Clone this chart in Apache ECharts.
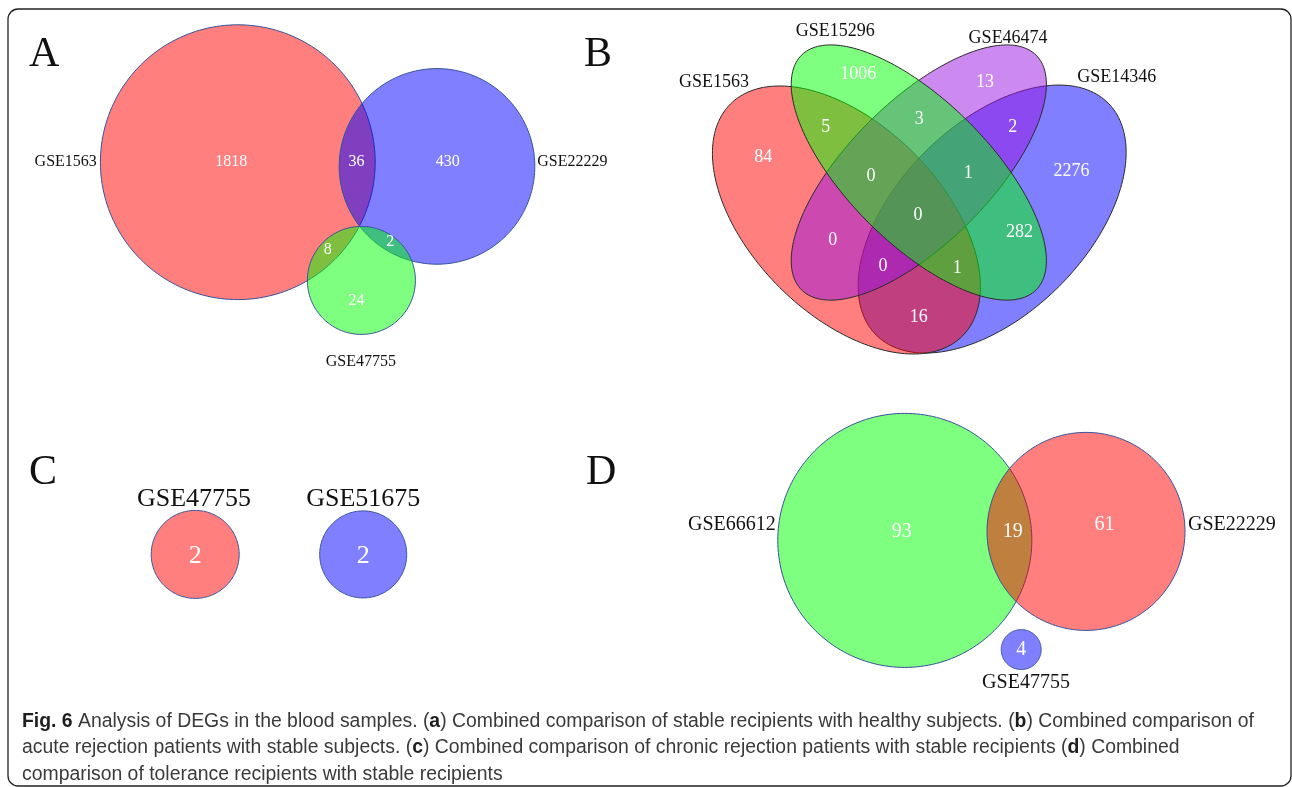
<!DOCTYPE html>
<html>
<head>
<meta charset="utf-8">
<script src="https://cdn.jsdelivr.net/npm/echarts@6/dist/echarts.min.js"></script>
<style>
html, body { margin: 0; padding: 0; background: #fff; }
#main { width: 1292px; height: 787px; }
</style>
</head>
<body>
<div id="main"></div>
<script>
// ---- A: stable recipients vs healthy subjects ----
// circles: [cx, cy, r] in panel units
const circlesA = [[3.63, 3.63, 2.29], [6.95, 3.56, 1.63], [5.69, 1.66, 0.90]]
const namesA = [[1.28, 3.63, 'GSE1563', 'right'], [8.62, 3.63, 'GSE22229', 'left'], [5.68, 0.30, 'GSE47755', 'center']]
const countsA = [
  [3.52, 3.63, 1818], [5.61, 3.63, 36], [7.13, 3.63, 430],
  [5.13, 2.17, 8], [6.17, 2.30, 2], [5.61, 1.32, 24]
]

// ---- B: 4-set venn, ellipses [cx, cy, a, b, rotation] (drawing order) ----
const ellipsesB = [
  [0.662, 0.485, 0.349, 0.202, 45],   // GSE14346
  [0.352, 0.483, 0.349, 0.202, 135],  // GSE1563
  [0.506, 0.584, 0.353, 0.151, 45],   // GSE46474
  [0.506, 0.584, 0.353, 0.151, 135]   // GSE15296
]
const namesB = [
  [0.070, 0.777, 'GSE1563', 'center'], [0.328, 0.884, 'GSE15296', 'center'],
  [0.696, 0.870, 'GSE46474', 'center'], [0.927, 0.787, 'GSE14346', 'center']
]
const countsB = [
  [0.377, 0.792, 1006], [0.647, 0.775, 13], [0.308, 0.681, 5], [0.507, 0.697, 3],
  [0.706, 0.681, 2], [0.175, 0.616, 84], [0.404, 0.577, 0], [0.611, 0.582, 1],
  [0.831, 0.586, 2276], [0.504, 0.494, 0], [0.323, 0.439, 0], [0.720, 0.456, 282],
  [0.430, 0.384, 0], [0.588, 0.380, 1], [0.506, 0.275, 16]
]

// ---- C: no overlap ----
const circlesC = [[2.92, 1.76, 0.733], [5.72, 1.76, 0.725]]
const namesC = [[2.90, 2.68, 'GSE47755', 'center'], [5.72, 2.68, 'GSE51675', 'center']]
const countsC = [[2.92, 1.73, 2], [5.72, 1.73, 2]]

// ---- D: tolerance recipients ----
const circlesD = [[4.08, 2.66, 2.117], [7.10, 2.81, 1.65], [6.02, 0.84, 0.333]]
const namesD = [[1.93, 2.92, 'GSE66612', 'right'], [8.80, 2.92, 'GSE22229', 'left'], [6.10, 0.28, 'GSE47755', 'center']]
const countsD = [[4.03, 2.80, 93], [5.88, 2.80, 19], [7.41, 2.92, 61], [6.02, 0.83, 4]]

const RED = 'rgba(255,0,0,0.5)'
const BLUE = 'rgba(0,0,255,0.5)'
const GREEN = 'rgba(0,255,0,0.5)'
const PURPLE = 'rgba(153,20,225,0.5)'
const SERIF = '"Liberation Serif", "Times New Roman", serif'

function ellipseItem(fills, stroke) {
  return function (params, api) {
    const cx = api.value(0)
    const cy = api.value(1)
    const a = api.value(2)
    const b = api.value(3)
    const rot = api.value(4) * Math.PI / 180
    const points = []
    for (let i = 0; i < 200; i++) {
      const t = i / 200 * Math.PI * 2
      const dx = a * Math.cos(t)
      const dy = b * Math.sin(t)
      points.push(api.coord([cx + dx * Math.cos(rot) - dy * Math.sin(rot), cy + dx * Math.sin(rot) + dy * Math.cos(rot)]))
    }
    return {
      type: 'polygon',
      shape: { points: points },
      style: { fill: fills[params.dataIndex], stroke: stroke, lineWidth: 1 }
    }
  }
}

function textItem(src, color, size) {
  return function (params, api) {
    const row = src[params.dataIndex]
    const p = api.coord([row[0], row[1]])
    return {
      type: 'text',
      x: p[0],
      y: p[1],
      style: {
        text: String(row[2]),
        fill: color,
        font: size + 'px ' + SERIF,
        align: row[3] || 'center',
        verticalAlign: 'middle'
      }
    }
  }
}

const toCircle = (c) => [c[0], c[1], c[2], c[2], 0]

function shapes(idx, data, fills, stroke) {
  return {
    type: 'custom', xAxisIndex: idx, yAxisIndex: idx, clip: false, silent: true, z: 2,
    renderItem: ellipseItem(fills, stroke),
    data: data
  }
}
function texts(idx, src, color, size) {
  return {
    type: 'custom', xAxisIndex: idx, yAxisIndex: idx, clip: false, silent: true, z: 5,
    renderItem: textItem(src, color, size),
    data: src.map((r) => [r[0], r[1]])
  }
}

const chart = echarts.init(document.getElementById('main'))
const axisOff = { type: 'value', show: false }
const caption =
  '{b|Fig. 6} Analysis of DEGs in the blood samples. ({b|a}) Combined comparison of stable recipients with healthy subjects. ({b|b}) Combined comparison of\n' +
  'acute rejection patients with stable subjects. ({b|c}) Combined comparison of chronic rejection patients with stable recipients ({b|d}) Combined\n' +
  'comparison of tolerance recipients with stable recipients'
const CAP_FONT = '"Liberation Sans", Arial, sans-serif'

chart.setOption({
  animation: false,
  title: {
    left: 17,
    top: 703,
    text: caption,
    textStyle: {
      fontFamily: CAP_FONT, fontSize: 19.4, fontWeight: 'normal', color: '#3a3a3a', lineHeight: 26.5,
      rich: { b: { fontFamily: CAP_FONT, fontSize: 19.4, fontWeight: 'bold', color: '#1e1e1e', lineHeight: 26.5 } }
    }
  },
  grid: [
    { left: 20, top: 20, width: 600, height: 360 },
    { left: 681, top: 24, width: 470, height: 376 },
    { left: 20, top: 420, width: 600, height: 240 },
    { left: 660, top: 400, width: 600, height: 300 }
  ],
  xAxis: [
    Object.assign({ gridIndex: 0, min: 0, max: 10 }, axisOff),
    Object.assign({ gridIndex: 1, min: 0, max: 1 }, axisOff),
    Object.assign({ gridIndex: 2, min: 0, max: 10 }, axisOff),
    Object.assign({ gridIndex: 3, min: 0, max: 10 }, axisOff)
  ],
  yAxis: [
    Object.assign({ gridIndex: 0, min: 0, max: 6 }, axisOff),
    Object.assign({ gridIndex: 1, min: 0.1, max: 0.9 }, axisOff),
    Object.assign({ gridIndex: 2, min: 0, max: 4 }, axisOff),
    Object.assign({ gridIndex: 3, min: 0, max: 5 }, axisOff)
  ],
  graphic: [
    { type: 'rect', shape: { x: 8, y: 9, width: 1283, height: 777, r: 10 }, style: { fill: 'none', stroke: '#222', lineWidth: 1.3 }, z: 0 },
    { type: 'text', x: 29, y: 55, style: { text: 'A', font: '42px ' + SERIF, fill: '#111', verticalAlign: 'middle' } },
    { type: 'text', x: 584, y: 55, style: { text: 'B', font: '42px ' + SERIF, fill: '#111', verticalAlign: 'middle' } },
    { type: 'text', x: 29, y: 473, style: { text: 'C', font: '42px ' + SERIF, fill: '#111', verticalAlign: 'middle' } },
    { type: 'text', x: 586, y: 473, style: { text: 'D', font: '42px ' + SERIF, fill: '#111', verticalAlign: 'middle' } }
  ],
  series: [
    shapes(0, circlesA.map(toCircle), [RED, BLUE, GREEN], '#34519a'),
    texts(0, namesA, '#111', 16),
    texts(0, countsA, '#fff', 16),
    shapes(1, ellipsesB, [BLUE, RED, PURPLE, GREEN], '#2a2a2a'),
    texts(1, namesB, '#111', 18),
    texts(1, countsB, '#fff', 18),
    shapes(2, circlesC.map(toCircle), [RED, BLUE], '#34519a'),
    texts(2, namesC, '#111', 26),
    texts(2, countsC, '#fff', 26),
    shapes(3, circlesD.map(toCircle), [GREEN, RED, BLUE], '#34519a'),
    texts(3, namesD, '#111', 20),
    texts(3, countsD, '#fff', 20)
  ]
})
</script>
</body>
</html>
